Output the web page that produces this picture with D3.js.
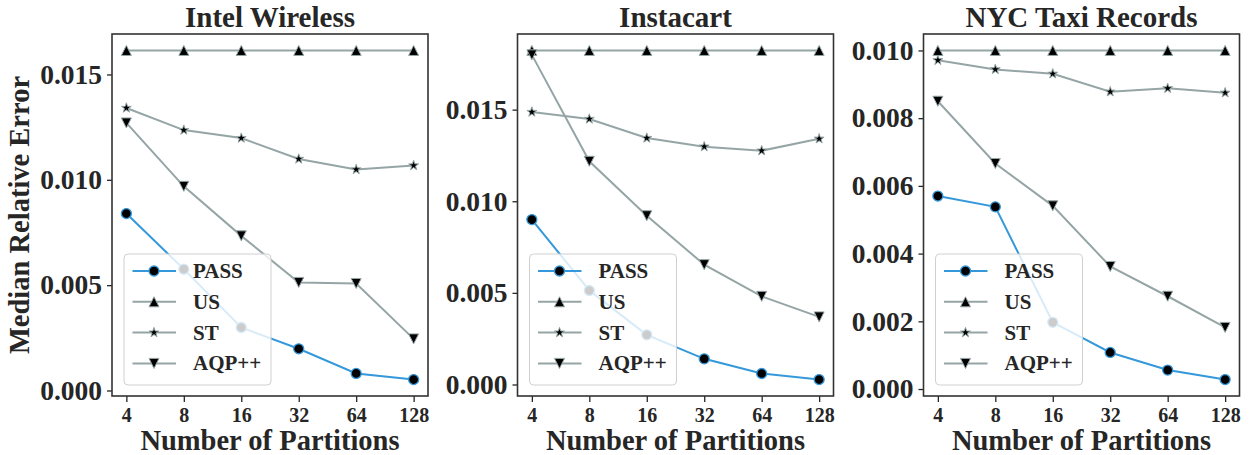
<!DOCTYPE html>
<html>
<head>
<meta charset="utf-8">
<script src="https://cdn.jsdelivr.net/npm/d3@7"></script>
<style>
  body { margin: 0; background: #fff; }
  svg { display: block; }
  text { font-family: "Liberation Serif", "Times New Roman", serif; font-weight: bold; fill: #262626; }
</style>
</head>
<body>
<div class="graph"></div>
<script>
// partitions on the x axis
const partitions = [4, 8, 16, 32, 64, 128];
const titles = ["Intel Wireless", "Instacart", "NYC Taxi Records"];
const methods = ["PASS", "US", "ST", "AQP++"];

// Intel Wireless
const intelPASS = [0.00840, 0.00576, 0.00299, 0.00198, 0.00081, 0.00052];
const intelUS   = [0.01614, 0.01614, 0.01614, 0.01614, 0.01614, 0.01614];
const intelST   = [0.01341, 0.01236, 0.01198, 0.01099, 0.01049, 0.01068];
const intelAQP  = [0.01270, 0.00969, 0.00734, 0.00513, 0.00508, 0.00245];

// Instacart
const instaPASS = [0.00900, 0.00513, 0.00271, 0.00140, 0.00060, 0.00027];
const instaUS   = [0.01823, 0.01823, 0.01823, 0.01823, 0.01823, 0.01823];
const instaST   = [0.01487, 0.01449, 0.01345, 0.01298, 0.01276, 0.01341];
const instaAQP  = [0.01799, 0.01218, 0.00921, 0.00654, 0.00481, 0.00369];

// NYC Taxi
const taxiPASS = [0.00570, 0.00538, 0.00197, 0.00108, 0.00056, 0.00028];
const taxiUS   = [0.01000, 0.01000, 0.01000, 0.01000, 0.01000, 0.01000];
const taxiST   = [0.00971, 0.00944, 0.00931, 0.00878, 0.00888, 0.00875];
const taxiAQP  = [0.00850, 0.00666, 0.00541, 0.00362, 0.00274, 0.00182];

const yTicks1 = [0, 0.005, 0.010, 0.015];
const yTicks2 = [0, 0.005, 0.010, 0.015];
const yTicks3 = [0, 0.002, 0.004, 0.006, 0.008, 0.010];

const panels = [
  { title: titles[0], series: [intelPASS, intelUS, intelST, intelAQP], ticks: yTicks1 },
  { title: titles[1], series: [instaPASS, instaUS, instaST, instaAQP], ticks: yTicks2 },
  { title: titles[2], series: [taxiPASS, taxiUS, taxiST, taxiAQP], ticks: yTicks3 }
];

const width = 1251;
const height = 455;
const blue = "#3498db";
const grey = "#95a5a6";
const lineColors = [blue, grey, grey, grey];
const markers = ["circle", "up", "star", "down"];

const svg = d3.select('.graph').append('svg')
  .attr('width', width)
  .attr('height', height);

const panelLeft = [112, 517.5, 923.5];
const panelW = 316;
const plotTop = 34, plotBottom = 396;

function markerPath(type) {
  const s = 5;
  if (type === "up") return `M0,${-s}L${s},${s}L${-s},${s}Z`;
  if (type === "down") return `M0,${s}L${s},${-s}L${-s},${-s}Z`;
  if (type === "star") {
    let p = [];
    for (let i = 0; i < 10; i++) {
      const r = i % 2 === 0 ? 5.2 : 2.0;
      const a = -Math.PI / 2 + i * Math.PI / 5;
      p.push([r * Math.cos(a), r * Math.sin(a)]);
    }
    return "M" + p.map(d => d.join(",")).join("L") + "Z";
  }
  return d3.symbol(d3.symbolCircle, Math.PI * 25)();
}

function drawMarker(g, type, color, x, y) {
  g.append('path')
    .attr('d', markerPath(type))
    .attr('transform', `translate(${x},${y})`)
    .attr('fill', '#000')
    .attr('stroke', color)
    .attr('stroke-width', type === "circle" ? 1.3 : 1);
}

panels.forEach((p, pi) => {
  const x0 = panelLeft[pi];
  const g = svg.append('g');

  const all = p.series.flat();
  const lo = d3.min(all), hi = d3.max(all);
  const pad = (hi - lo) * 0.05;

  const lx = Math.log2(partitions[0]), hx = Math.log2(partitions[partitions.length - 1]);
  const xPad = (hx - lx) * 0.05;
  const x = d3.scaleLog().base(2)
    .domain([Math.pow(2, lx - xPad), Math.pow(2, hx + xPad)])
    .range([x0, x0 + panelW]);
  const y = d3.scaleLinear()
    .domain([lo - pad, hi + pad])
    .range([plotBottom, plotTop]);

  // axes
  const yAxis = g.append('g')
    .attr('transform', `translate(${x0},0)`)
    .call(d3.axisLeft(y).tickValues(p.ticks).tickFormat(d3.format('.3f')).tickSize(5).tickSizeOuter(0).tickPadding(5));
  yAxis.select('.domain').remove();
  yAxis.selectAll('line').attr('stroke', '#262626').attr('stroke-width', 1.3);
  yAxis.selectAll('text').attr('font-size', 27.5).attr('fill', '#262626')
    .style('font-family', '"Liberation Serif", serif').style('font-weight', 'bold');

  const xAxis = g.append('g')
    .attr('transform', `translate(0,${plotBottom})`)
    .call(d3.axisBottom(x).tickValues(partitions).tickFormat(d3.format('d')).tickSize(6).tickSizeOuter(0).tickPadding(6));
  xAxis.select('.domain').remove();
  xAxis.selectAll('line').attr('stroke', '#262626').attr('stroke-width', 1.3);
  xAxis.selectAll('text').attr('font-size', 20).attr('fill', '#262626')
    .style('font-family', '"Liberation Serif", serif').style('font-weight', 'bold');

  // lines + markers, one series after another
  const line = d3.line().x((d, i) => x(partitions[i])).y(d => y(d));
  p.series.forEach((s, si) => {
    g.append('path')
      .datum(s)
      .attr('d', line)
      .attr('fill', 'none')
      .attr('stroke', lineColors[si])
      .attr('stroke-width', 2);
    s.forEach((v, i) => drawMarker(g, markers[si], lineColors[si], x(partitions[i]), y(v)));
  });

  // frame
  g.append('rect')
    .attr('x', x0).attr('y', plotTop)
    .attr('width', panelW).attr('height', plotBottom - plotTop)
    .attr('fill', 'none')
    .attr('stroke', '#333')
    .attr('stroke-width', 1.6);

  // legend
  const lg = g.append('g').attr('transform', `translate(${x0 + 12},254)`);
  lg.append('rect')
    .attr('width', 147).attr('height', 131)
    .attr('rx', 4)
    .attr('fill', '#fff').attr('fill-opacity', 0.8)
    .attr('stroke', '#d0d0d0').attr('stroke-width', 1);
  methods.forEach((m, i) => {
    const ry = 17 + i * 30.8;
    lg.append('line')
      .attr('x1', 8.5).attr('x2', 52)
      .attr('y1', ry).attr('y2', ry)
      .attr('stroke', lineColors[i]).attr('stroke-width', 2);
    drawMarker(lg, markers[i], lineColors[i], 30, ry);
    lg.append('text')
      .attr('x', 69).attr('y', ry + 7)
      .attr('font-size', 21)
      .text(m);
  });

  // title and x label
  g.append('text')
    .attr('x', x0 + panelW / 2).attr('y', 27)
    .attr('text-anchor', 'middle')
    .attr('font-size', 29)
    .text(p.title);
  g.append('text')
    .attr('x', x0 + panelW / 2).attr('y', 450)
    .attr('text-anchor', 'middle')
    .attr('font-size', 28.5)
    .text('Number of Partitions');
});

svg.append('text')
  .attr('transform', `translate(29,${(plotTop + plotBottom) / 2}) rotate(-90)`)
  .attr('text-anchor', 'middle')
  .attr('font-size', 28.5)
  .text('Median Relative Error');
</script>
</body>
</html>
